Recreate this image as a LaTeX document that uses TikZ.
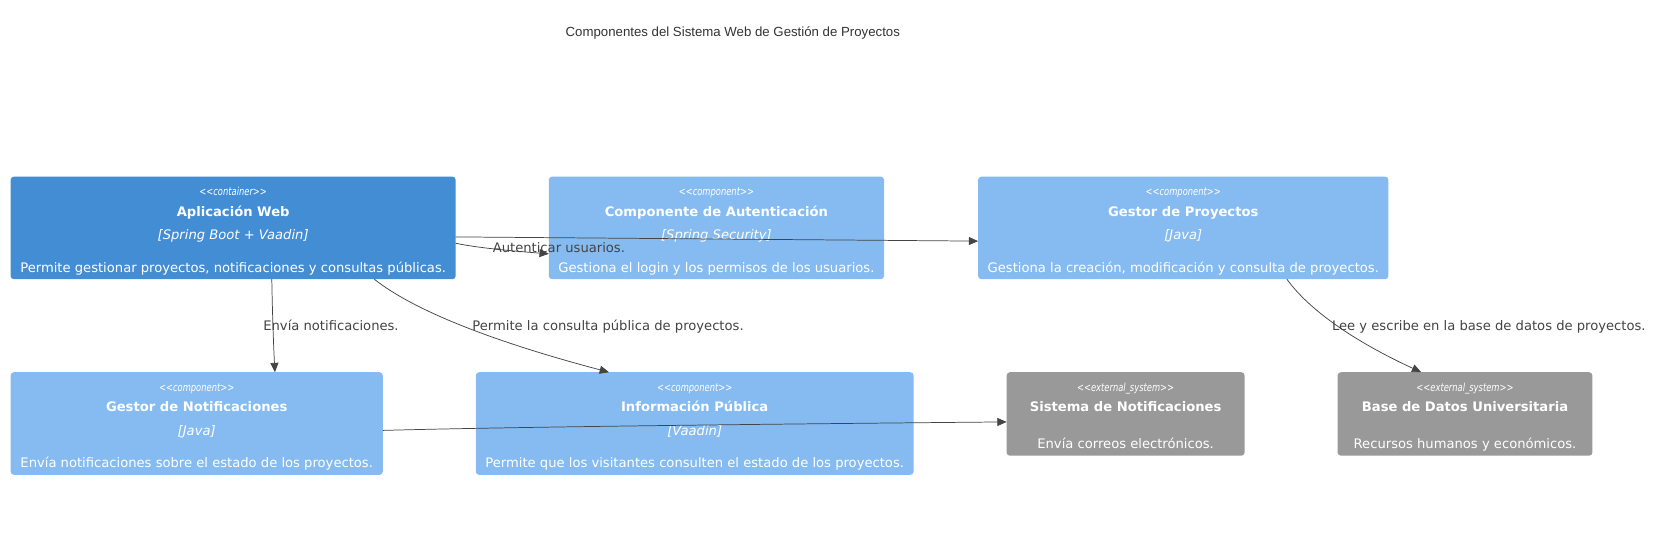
\documentclass[tikz,border=0pt]{standalone}
\usepackage{fontspec}
\setmainfont{DejaVu Sans}
\newfontfamily\titlefont{Liberation Sans}
\usetikzlibrary{calc,arrows.meta}
\definecolor{contblue}{HTML}{438DD5}
\definecolor{compblue}{HTML}{85BBF0}
\definecolor{extgray}{HTML}{999999}
\definecolor{relgray}{HTML}{444444}
\definecolor{titlegray}{HTML}{333333}
\def\px{0.75pt}
\tikzset{
  c4box/.style={rectangle, rounded corners=2.5pt, inner sep=0pt, outer sep=0pt, anchor=north west, draw=none},
  contbox/.style={c4box, fill=contblue},
  compbox/.style={c4box, fill=compblue},
  extbox/.style={c4box, fill=extgray},
  bigbox/.style={minimum height=102.6*\px},
  smallbox/.style={minimum height=83.5*\px},
  txt/.style={inner sep=0pt, text=white, font=\fontsize{9.85}{11.8}\selectfont, text height=10.3pt, text depth=2pt},
  ttl/.style={txt, font=\fontsize{9.85}{11.8}\selectfont\bfseries},
  tech/.style={txt, font=\fontsize{9.85}{11.8}\selectfont\itshape},
  stereo/.style={inner sep=0pt, text=white, font=\fontsize{8.25}{9}\selectfont\itshape, text height=7.6pt, text depth=1.7pt},
  rellabel/.style={inner sep=0pt, text=relgray, font=\fontsize{9.85}{11.8}\selectfont, text height=10.3pt, text depth=2pt},
  rel/.style={draw=relgray, line width=0.55pt, -{Triangle[length=7pt,width=6pt]}},
}
\newcommand\qrel[2]{%
  \coordinate (qa) at ($(#1)!.25!(#2)$);
  \coordinate (qb) at ($(#1)!.5!(#2)$);
  \coordinate (qc) at (qa |- qb);
  \draw[rel] (#1) .. controls ($(#1)!2/3!(qc)$) and ($(#2)!2/3!(qc)$) .. (#2);
}
\newcommand\stq[1]{\scalebox{0.76}[1]{<{}<#1>{}>}}
\begin{document}
\begin{tikzpicture}[x=0.75pt,y=-0.75pt]
\fill[white] (0,0) rectangle (1658,540);
\useasboundingbox (0,0) rectangle (1658,540);

\node[text=titlegray, font=\titlefont\fontsize{9.92}{12}\selectfont, inner sep=0pt] (title) at (732.8,32.6) {Componentes del Sistema Web de Gestión de Proyectos};

% boxes
\node[contbox, bigbox, minimum width=445.1*\px] (A) at (10.6,176.6) {};
\node[compbox, bigbox, minimum width=335.2*\px] (B) at (548.8,176.6) {};
\node[compbox, bigbox, minimum width=410.3*\px] (C) at (978.1,176.6) {};
\node[compbox, bigbox, minimum width=372.2*\px] (D) at (10.6,372.2) {};
\node[compbox, bigbox, minimum width=437.8*\px] (E) at (475.8,372.2) {};
\node[extbox, smallbox, minimum width=238*\px] (F) at (1006.6,372.2) {};
\node[extbox, smallbox, minimum width=254.8*\px] (G) at (1337.6,372.2) {};

% texts A
\node[stereo] (As) at ($(A.north)+(0,15)$) {\stq{container}};
\node[ttl] (At) at ($(A.north)+(0,34)$) {Aplicación Web};
\node[tech] (Ak) at ($(A.north)+(0,57.3)$) {[Spring Boot + Vaadin]};
\node[txt] (Ad) at ($(A.north)+(0,90)$) {Permite gestionar proyectos, notificaciones y consultas públicas.};
% texts B
\node[stereo] (Bs) at ($(B.north)+(0,15)$) {\stq{component}};
\node[ttl] (Bt) at ($(B.north)+(0,34)$) {Componente de Autenticación};
\node[tech] (Bk) at ($(B.north)+(0,57.3)$) {[Spring Security]};
\node[txt] (Bd) at ($(B.north)+(0,90)$) {Gestiona el login y los permisos de los usuarios.};
% texts C
\node[stereo] (Cs) at ($(C.north)+(0,15)$) {\stq{component}};
\node[ttl] (Ct) at ($(C.north)+(0,34)$) {Gestor de Proyectos};
\node[tech] (Ck) at ($(C.north)+(0,57.3)$) {[Java]};
\node[txt] (Cd) at ($(C.north)+(0,90)$) {Gestiona la creación, modificación y consulta de proyectos.};
% texts D
\node[stereo] (Ds) at ($(D.north)+(0,15)$) {\stq{component}};
\node[ttl] (Dt) at ($(D.north)+(0,34)$) {Gestor de Notificaciones};
\node[tech] (Dk) at ($(D.north)+(0,57.3)$) {[Java]};
\node[txt] (Dd) at ($(D.north)+(0,90)$) {Envía notificaciones sobre el estado de los proyectos.};
% texts E
\node[stereo] (Es) at ($(E.north)+(0,15)$) {\stq{component}};
\node[ttl] (Et) at ($(E.north)+(0,34)$) {Información Pública};
\node[tech] (Ek) at ($(E.north)+(0,57.3)$) {[Vaadin]};
\node[txt] (Ed) at ($(E.north)+(0,90)$) {Permite que los visitantes consulten el estado de los proyectos.};
% texts F
\node[stereo] (Fs) at ($(F.north)+(0,15)$) {\stq{external\_system}};
\node[ttl] (Ft) at ($(F.north)+(0,34)$) {Sistema de Notificaciones};
\node[txt] (Fd) at ($(F.north)+(0,70.8)$) {Envía correos electrónicos.};
% texts G
\node[stereo] (Gs) at ($(G.north)+(0,15)$) {\stq{external\_system}};
\node[ttl] (Gt) at ($(G.north)+(0,34)$) {Base de Datos Universitaria};
\node[txt] (Gd) at ($(G.north)+(0,70.8)$) {Recursos humanos y económicos.};

% connector end points
\coordinate (ACs) at ($(A.north east)+(0,60.3)$);
\coordinate (ACe) at ($(C.north west)+(0,64.5)$);
\coordinate (ABs) at ($(A.north east)+(0,66.6)$);
\coordinate (ABe) at ($(B.north west)+(0,77.2)$);
\coordinate (ADs) at ($(A.south west)+(261.2,0)$);
\coordinate (ADe) at ($(D.north west)+(264.3,0)$);
\coordinate (AEs) at ($(A.south west)+(363.7,0)$);
\coordinate (AEe) at ($(E.north west)+(133.2,0)$);
\coordinate (CGs) at ($(C.south west)+(308.8,0)$);
\coordinate (CGe) at ($(G.north west)+(83.6,0)$);
\coordinate (DFs) at ($(D.north east)+(0,58.2)$);
\coordinate (DFe) at ($(F.north west)+(0,49.7)$);

\draw[rel] (ACs) -- (ACe);
\qrel{ABs}{ABe}
\qrel{ADs}{ADe}
\qrel{AEs}{AEe}
\qrel{CGs}{CGe}
\qrel{DFs}{DFe}

% labels
\node[rellabel] (lAB) at (558.9,247.4) {Autenticar usuarios.};
\node[rellabel] (lAD) at (331,324.6) {Envía notificaciones.};
\node[rellabel] (lAE) at (608,324.6) {Permite la consulta pública de proyectos.};
\node[rellabel] (lCG) at (1488.8,324.6) {Lee y escribe en la base de datos de proyectos.};
\end{tikzpicture}
\end{document}
